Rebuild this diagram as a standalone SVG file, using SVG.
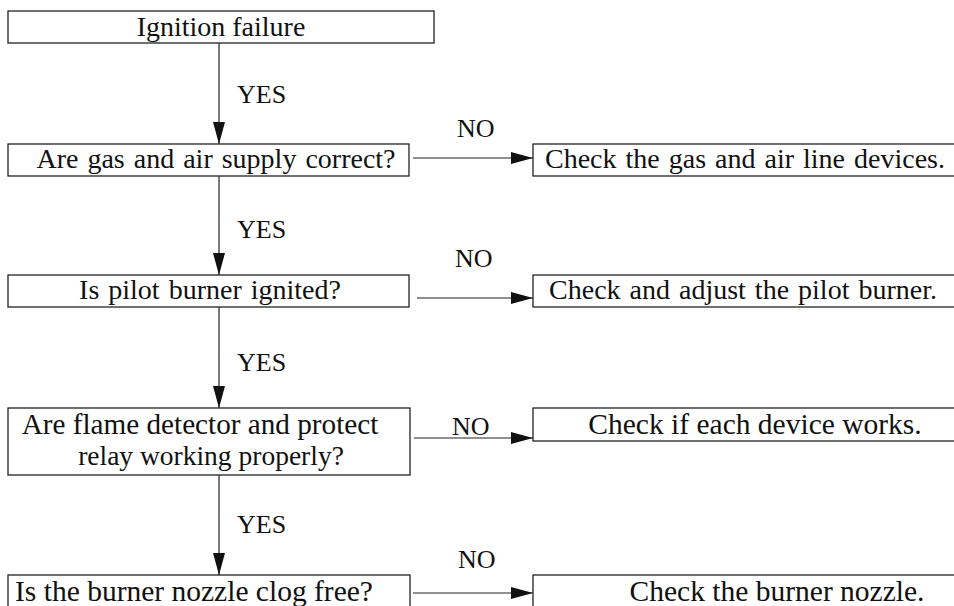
<svg xmlns="http://www.w3.org/2000/svg" width="954" height="606" viewBox="0 0 954 606">
<defs>
<style>
.box{fill:#fff;stroke:#222;stroke-width:1.3}
.t{font-family:"Liberation Serif","Times New Roman",serif;font-size:28px;fill:#111;text-anchor:middle;word-spacing:2px}
.t2{font-family:"Liberation Serif","Times New Roman",serif;font-size:29.5px;fill:#111;text-anchor:middle}
.lb{font-family:"Liberation Serif","Times New Roman",serif;font-size:26px;fill:#111}
.ln{stroke:#222;stroke-width:1.2;fill:none}
</style>
<marker id="ah" viewBox="0 0 22 12" refX="22" refY="6" markerWidth="22" markerHeight="12" markerUnits="userSpaceOnUse" orient="auto">
<path d="M0,0 L22,6 L0,12 Z" fill="#111"/>
</marker>
</defs>
<rect width="954" height="606" fill="#fff"/>
<g id="n1"><rect class="box" x="8" y="11" width="426" height="32"/><text class="t" x="221" y="36" style="word-spacing:0">Ignition failure</text></g>
<g id="n2"><rect class="box" x="8" y="144" width="401" height="32"/><text class="t" x="216" y="168">Are gas and air supply correct?</text></g>
<g id="n2n"><rect class="box" x="533" y="144" width="430" height="32"/><text class="t" x="745" y="168">Check the gas and air line devices.</text></g>
<g id="n3"><rect class="box" x="8" y="275" width="401" height="32"/><text class="t" x="210" y="299">Is pilot burner ignited?</text></g>
<g id="n3n"><rect class="box" x="533" y="275" width="430" height="32"/><text class="t" x="743" y="299">Check and adjust the pilot burner.</text></g>
<g id="n4"><rect class="box" x="8" y="408" width="402" height="67"/><text class="t2" x="200" y="434" style="font-size:29.2px">Are flame detector and protect</text><text class="t2" x="211" y="465" style="font-size:27.5px">relay working properly?</text></g>
<g id="n4n"><rect class="box" x="533" y="408" width="430" height="33"/><text class="t2" x="755" y="434">Check if each device works.</text></g>
<g id="n5"><rect class="box" x="8" y="575" width="402" height="45"/><text class="t2" x="194" y="601">Is the burner nozzle clog free?</text></g>
<g id="n5n"><rect class="box" x="533" y="575" width="430" height="45"/><text class="t2" x="777" y="601">Check the burner nozzle.</text></g>
<g id="connectors">
<line class="ln" x1="219" y1="43" x2="219" y2="144" marker-end="url(#ah)"/>
<line class="ln" x1="219" y1="176" x2="219" y2="275" marker-end="url(#ah)"/>
<line class="ln" x1="219" y1="307" x2="219" y2="408" marker-end="url(#ah)"/>
<line class="ln" x1="219" y1="475" x2="219" y2="575" marker-end="url(#ah)"/>
<line class="ln" x1="413" y1="158" x2="533" y2="158" marker-end="url(#ah)"/>
<line class="ln" x1="417" y1="298" x2="533" y2="298" marker-end="url(#ah)"/>
<line class="ln" x1="414" y1="438" x2="533" y2="438" marker-end="url(#ah)"/>
<line class="ln" x1="413" y1="593" x2="533" y2="593" marker-end="url(#ah)"/>
<text class="lb" x="237" y="103">YES</text>
<text class="lb" x="237" y="238">YES</text>
<text class="lb" x="237" y="371">YES</text>
<text class="lb" x="237" y="533">YES</text>
<text class="lb" x="457" y="137">NO</text>
<text class="lb" x="455" y="267">NO</text>
<text class="lb" x="452" y="435">NO</text>
<text class="lb" x="458" y="568">NO</text>
</g>
</svg>
